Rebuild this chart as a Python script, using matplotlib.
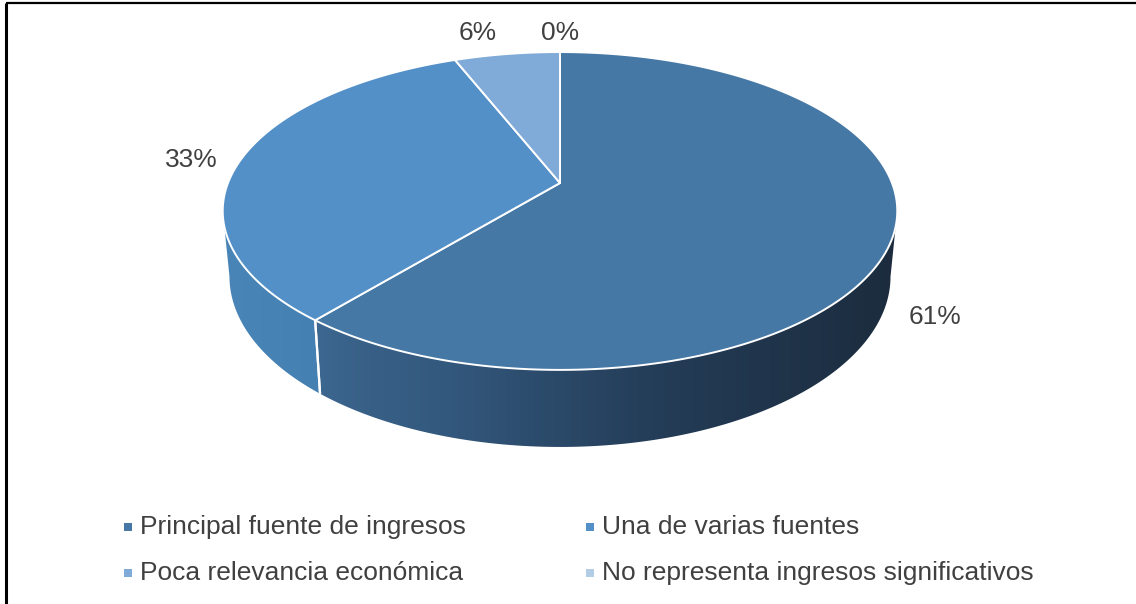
import numpy as np
import matplotlib
matplotlib.use("Agg")
import matplotlib.pyplot as plt
from matplotlib.patches import Polygon
from matplotlib.colors import LinearSegmentedColormap

plt.rcParams['font.family'] = ['Liberation Sans', 'DejaVu Sans']

# Survey shares (percent)
categories = ["Principal fuente de ingresos", "Una de varias fuentes",
              "Poca relevancia económica", "No representa ingresos significativos"]
shares = [61, 33, 6, 0]
labels = ["61%", "33%", "6%", "0%"]

top_colors = ["#4678a6", "#5390c8", "#80aad8", "#b4cde6"]
side_colors = [["#3d6891", "#33587d", "#243d58", "#1c2c3e"],
               ["#4a85b8", "#4580b2"],
               ["#7099c4", "#6a92bc"],
               ["#a0bcd8", "#98b4d0"]]
text_color = "#404040"

W, H = 1136, 604
fig = plt.figure(figsize=(W / 100, H / 100), dpi=100)
ax = fig.add_axes([0, 0, 1, 1])
ax.set_xlim(0, W)
ax.set_ylim(H, 0)
ax.axis("off")

# Perspective disk geometry (screen pixels)
cx, cy = 560.0, 183.0
A, B, k = 332.0, 154.0, 0.176
thick = 63.5
shrink = 0.98


def rim(theta):
    """Top rim point; theta in degrees clockwise from 12 o'clock."""
    t = np.radians(theta)
    X, Y = np.sin(t), np.cos(t)
    w = 1 + k * Y
    return cx + A * X / w, cy - B * Y / w, w


def bottom(theta):
    x, y, w = rim(theta)
    return cx + shrink * (x - cx), y + thick / w


total = float(sum(shares))
starts = np.concatenate([[0], np.cumsum(shares)[:-1]]) / total * 360
ends = np.cumsum(shares) / total * 360

# silhouette angles of the visible side wall
sil = np.degrees(np.arccos(-k))
vis_lo, vis_hi = sil, 360 - sil

# side walls
for i in range(len(shares)):
    a0, a1 = max(starts[i], vis_lo), min(ends[i], vis_hi)
    if a1 <= a0:
        continue
    th = np.linspace(a0, a1, 200)
    tx, ty, _ = rim(th)
    bx, by = bottom(th)
    pts = np.column_stack([np.concatenate([tx, bx[::-1]]),
                           np.concatenate([ty, by[::-1]])])
    poly = Polygon(pts, closed=True, facecolor="none", edgecolor="none")
    ax.add_patch(poly)
    xmin, xmax = pts[:, 0].min(), pts[:, 0].max()
    ymin, ymax = pts[:, 1].min(), pts[:, 1].max()
    cmap = LinearSegmentedColormap.from_list("side%d" % i, side_colors[i])
    grad = np.linspace(0, 1, 256)[None, :]
    if i == 0:
        grad = grad ** 0.75
    im = ax.imshow(grad, cmap=cmap, extent=[xmin, xmax, ymax, ymin],
                   aspect="auto", zorder=2, interpolation="bilinear")
    im.set_clip_path(poly)
    # seams between wall segments
    for a in (starts[i], ends[i]):
        if vis_lo < a < vis_hi:
            x0, y0, _ = rim(a)
            x1, y1 = bottom(a)
            ax.plot([x0, x1], [y0, y1], color="white", lw=1.6, zorder=4,
                    solid_capstyle="butt")

# top faces
for i in range(len(shares)):
    if shares[i] == 0:
        continue
    th = np.linspace(starts[i], ends[i], 300)
    tx, ty, _ = rim(th)
    pts = np.column_stack([np.concatenate([[cx], tx]), np.concatenate([[cy], ty])])
    ax.add_patch(Polygon(pts, closed=True, facecolor=top_colors[i],
                         edgecolor="white", lw=1.4, joinstyle="round", zorder=3))

# value labels
label_pos = [(935, 317), (191, 160), (478, 33), (560, 33)]
for (x, y), t in zip(label_pos, labels):
    ax.text(x, y, t, ha="center", va="center", fontsize=19, color=text_color, zorder=5)

# chart frame (top and left edges)
ax.plot([6, W], [3, 3], color="black", lw=1.6, solid_capstyle="butt", zorder=6)
ax.plot([6, 6], [3, H], color="black", lw=2.2, solid_capstyle="butt", zorder=6)

# legend, two entries per row
col_x = [128, 590]
row_y = [527, 573]
for i, (name, c) in enumerate(zip(categories, top_colors)):
    x = col_x[i % 2]
    y = row_y[i // 2]
    ax.scatter([x], [y], marker="s", s=26, color=c, linewidths=0, zorder=5)
    ax.text(x + 12, y, name, ha="left", va="center", fontsize=19,
            color=text_color, zorder=5)

fig.savefig("out.png", dpi=100)
